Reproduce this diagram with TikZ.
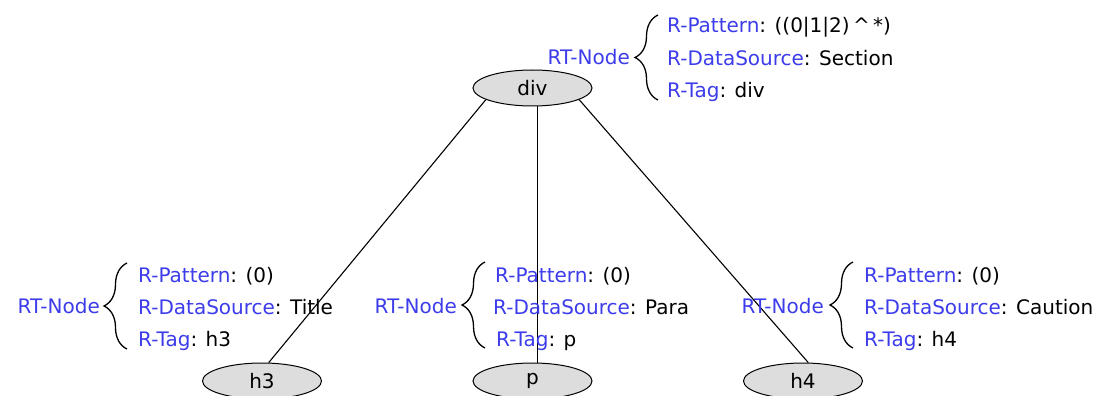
\documentclass[tikz,border=0pt]{standalone}
\usepackage{fontspec}
\setmainfont{DejaVu Sans}
\usetikzlibrary{shapes.geometric,decorations.pathreplacing}
\definecolor{keyblue}{RGB}{60,60,235}
\definecolor{nodegray}{RGB}{221,221,221}
\newcommand{\kw}[1]{\textcolor{keyblue}{#1}}
\tikzset{
  tag/.style={ellipse, draw=black, line width=1pt, fill=nodegray,
    minimum width=119pt, minimum height=36pt, inner sep=0pt,
    font=\fontsize{20}{24}\selectfont},
  lbl/.style={inner sep=0pt, font=\fontsize{20}{24}\selectfont},
  rt/.style={lbl, anchor=base east, text=keyblue},
  line/.style={line width=1.1pt, draw=black},
  brc/.style={line width=1.3pt, decorate, decoration={brace, amplitude=23pt}}
}
\begin{document}
\begin{tikzpicture}[x=1pt, y=-1pt]
\useasboundingbox (0,0) rectangle (1096,396);

% tree nodes
\node[tag] (div) at (532.5,88) {div};
\node[tag] (h3) at (262,381) {h3};
\node[tag] (p) at (532.5,381) {p};
\node[tag] (h4) at (803,381) {h4};

% edges
\draw[line] (div.194) -- (h3.70);
\draw[line] (div.285) -- (p.75);
\draw[line] (div.346) -- (h4.74);

% annotation of div
\node[rt] (rtdiv) at (630,65) {RT-Node};
\coordinate (bdiv1) at (658,100);
\coordinate (bdiv2) at (658,15);
\draw[brc] (bdiv1) -- (bdiv2);
\node[lbl, anchor=base west] (pdiv) at (667,33) {\kw{R-Pattern}: ((0|1|2)\,\textasciicircum\,*)};
\node[lbl, anchor=base west] (sdiv) at (667,66) {\kw{R-DataSource}: Section};
\node[lbl, anchor=base west] (tdiv) at (667,98) {\kw{R-Tag}: div};

% annotation of h3
\node[rt] (rth3) at (100,313) {RT-Node};
\coordinate (bh31) at (127,349);
\coordinate (bh32) at (127,263);
\draw[brc] (bh31) -- (bh32);
\node[lbl, anchor=base west] (ph3) at (138,282) {\kw{R-Pattern}: (0)};
\node[lbl, anchor=base west] (sh3) at (138,314) {\kw{R-DataSource}: Title};
\node[lbl, anchor=base west] (th3) at (138,346) {\kw{R-Tag}: h3};

% annotation of p
\node[rt] (rtp) at (457,313) {RT-Node};
\coordinate (bp1) at (485,348);
\coordinate (bp2) at (485,262);
\draw[brc] (bp1) -- (bp2);
\node[lbl, anchor=base west] (pp) at (495,282) {\kw{R-Pattern}: (0)};
\node[lbl, anchor=base west] (sp) at (493,314) {\kw{R-DataSource}: Para};
\node[lbl, anchor=base west] (tp) at (496,346) {\kw{R-Tag}: p};

% annotation of h4
\node[rt] (rth4) at (824,313) {RT-Node};
\coordinate (bh41) at (853,348);
\coordinate (bh42) at (853,262);
\draw[brc] (bh41) -- (bh42);
\node[lbl, anchor=base west] (ph4) at (864,282) {\kw{R-Pattern}: (0)};
\node[lbl, anchor=base west] (sh4) at (864,314) {\kw{R-DataSource}: Caution};
\node[lbl, anchor=base west] (th4) at (864,346) {\kw{R-Tag}: h4};
\end{tikzpicture}
\end{document}
